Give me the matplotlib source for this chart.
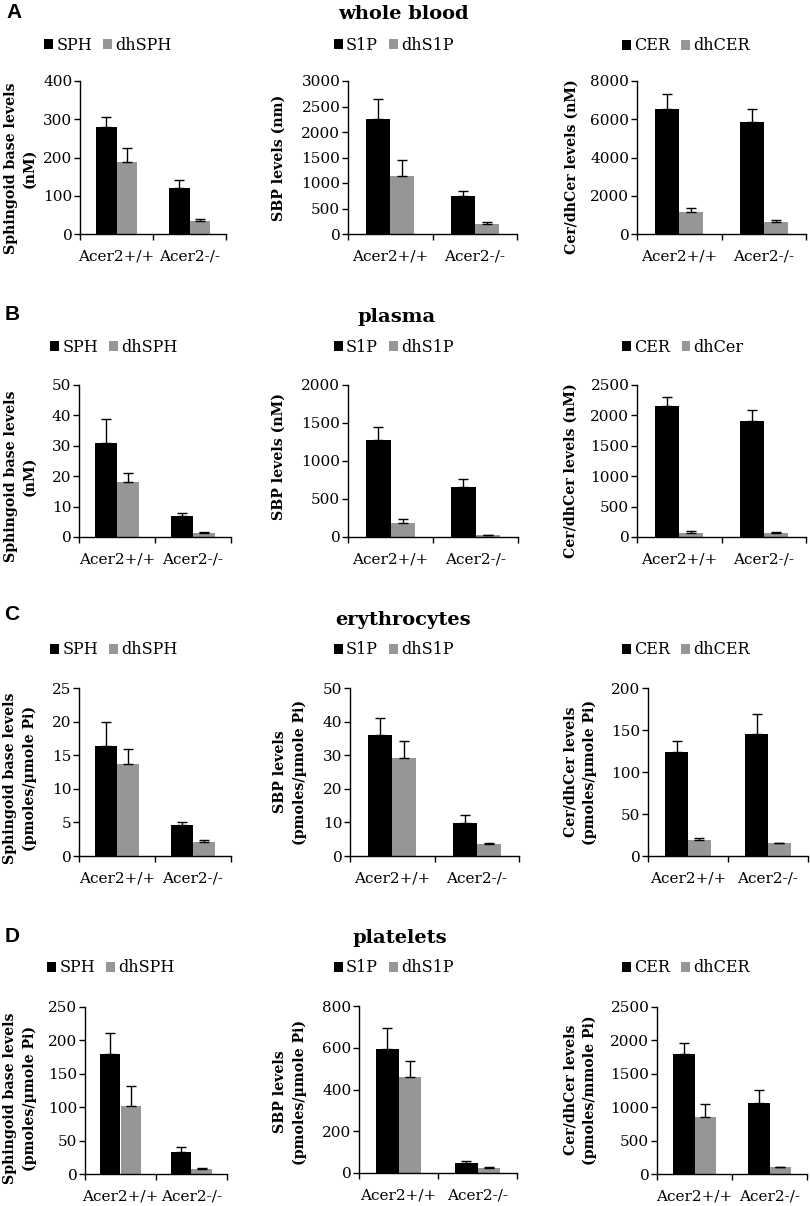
import matplotlib
matplotlib.use('Agg')
import matplotlib.pyplot as plt
import numpy as np

W, H = 810, 1206

groups = ['Acer2+/+', 'Acer2-/-']

# whole blood
blood_sph = [280, 120]
blood_sph_err = [25, 20]
blood_dhsph = [187, 35]
blood_dhsph_err = [38, 5]
blood_s1p = [2250, 740]
blood_s1p_err = [400, 110]
blood_dhs1p = [1140, 190]
blood_dhs1p_err = [310, 40]
blood_cer = [6550, 5850]
blood_cer_err = [750, 700]
blood_dhcer = [1170, 620]
blood_dhcer_err = [210, 110]

# plasma
plasma_sph = [30.8, 6.8]
plasma_sph_err = [8, 1]
plasma_dhsph = [18, 1.2]
plasma_dhsph_err = [3, 0.3]
plasma_s1p = [1280, 660]
plasma_s1p_err = [170, 100]
plasma_dhs1p = [190, 20]
plasma_dhs1p_err = [50, 8]
plasma_cer = [2150, 1900]
plasma_cer_err = [150, 190]
plasma_dhcer = [70, 65]
plasma_dhcer_err = [25, 20]

# erythrocytes
ery_sph = [16.4, 4.6]
ery_sph_err = [3.6, 0.5]
ery_dhsph = [13.7, 2.1]
ery_dhsph_err = [2.2, 0.3]
ery_s1p = [36, 9.8]
ery_s1p_err = [5.2, 2.5]
ery_dhs1p = [29.1, 3.5]
ery_dhs1p_err = [5, 0.5]
ery_cer = [124, 145]
ery_cer_err = [13, 24]
ery_dhcer = [19, 15]
ery_dhcer_err = [2, 1]

# platelets
plt_sph = [180, 33]
plt_sph_err = [31, 7]
plt_dhsph = [102, 7]
plt_dhsph_err = [30, 2]
plt_s1p = [595, 47]
plt_s1p_err = [98, 10]
plt_dhs1p = [462, 22]
plt_dhs1p_err = [75, 6]
plt_cer = [1790, 1060]
plt_cer_err = [170, 200]
plt_dhcer = [860, 100]
plt_dhcer_err = [190, 10]

GRAY = '#969696'
SERIF = 'DejaVu Serif'

fig = plt.figure(figsize=(W / 100, H / 100), dpi=100)
fig.patch.set_facecolor('white')


def fx(x):
    return x / W


def fy(y):
    return 1 - y / H


def draw(box, a, a_err, b, b_err, names, ymax, step, ylabel, lab_xy, leg_xy):
    x0, x1, top, bottom = box
    ax = fig.add_axes([fx(x0), fy(bottom), fx(x1 - x0), (bottom - top) / H])
    pos = np.arange(len(groups)) + 0.5
    w = 0.286
    ekw = dict(ecolor='black', elinewidth=1.0, capsize=3.5, capthick=1.0)
    ax.bar(pos - w / 2, a, w, color='black', label=names[0],
           yerr=[np.zeros(len(a)), a_err], error_kw=ekw, zorder=2)
    ax.bar(pos + w / 2, b, w, color=GRAY, label=names[1],
           yerr=[np.zeros(len(b)), b_err], error_kw=ekw, zorder=2)
    ax.set_xlim(0, len(groups))
    ax.set_ylim(0, ymax)
    ax.set_yticks(np.arange(0, ymax + step / 2, step))
    ax.set_xticks([0, 1, 2])
    ax.set_xticklabels([])
    ax.set_xticks(pos, minor=True)
    ax.set_xticklabels(groups, minor=True)
    ax.tick_params(axis='x', which='minor', length=0, pad=11)
    ax.tick_params(axis='both', which='major', direction='out', length=4,
                   width=1.0)
    ax.tick_params(axis='y', pad=1.5)
    for lbl in ax.get_xticklabels(minor=True) + ax.get_yticklabels():
        lbl.set_family(SERIF)
        lbl.set_fontsize(11)
    for s in ['top', 'right']:
        ax.spines[s].set_visible(False)
    for s in ['left', 'bottom']:
        ax.spines[s].set_linewidth(1.0)
    fig.text(fx(lab_xy[0]), fy(lab_xy[1]), ylabel, rotation=90, ha='center',
             va='center', family=SERIF, fontweight='bold', fontsize=10.2,
             linespacing=1.45)
    ax.legend(loc='center', bbox_to_anchor=(fx(leg_xy[0]), fy(leg_xy[1])),
              bbox_transform=fig.transFigure, ncol=2, frameon=False,
              handlelength=0.55, handleheight=0.55, handletextpad=0.2,
              columnspacing=0.7, prop={'family': SERIF, 'size': 11.5})
    return ax


# row A - whole blood
draw((80, 226, 81, 234), blood_sph, blood_sph_err, blood_dhsph, blood_dhsph_err,
     ['SPH', 'dhSPH'], 400, 100, 'Sphingoid base levels\n(nM)', (20, 168), (108, 45))
draw((348, 517, 81, 234), blood_s1p, blood_s1p_err, blood_dhs1p, blood_dhs1p_err,
     ['S1P', 'dhS1P'], 3000, 500, 'SBP levels (nm)', (279, 158), (394, 45))
draw((637, 806, 81, 234), blood_cer, blood_cer_err, blood_dhcer, blood_dhcer_err,
     ['CER', 'dhCER'], 8000, 2000, 'Cer/dhCer levels (nM)', (572, 167), (686, 46))

# row B - plasma
draw((79, 231, 385, 537), plasma_sph, plasma_sph_err, plasma_dhsph, plasma_dhsph_err,
     ['SPH', 'dhSPH'], 50, 10, 'Sphingoid base levels\n(nM)', (20, 476), (114, 347))
draw((348, 518, 385, 537), plasma_s1p, plasma_s1p_err, plasma_dhs1p, plasma_dhs1p_err,
     ['S1P', 'dhS1P'], 2000, 500, 'SBP levels (nM)', (279, 457), (394, 347))
draw((637, 806, 385, 537), plasma_cer, plasma_cer_err, plasma_dhcer, plasma_dhcer_err,
     ['CER', 'dhCer'], 2500, 500, 'Cer/dhCer levels (nM)', (571, 471), (683, 347))

# row C - erythrocytes
draw((79, 231, 688, 856), ery_sph, ery_sph_err, ery_dhsph, ery_dhsph_err,
     ['SPH', 'dhSPH'], 25, 5, 'Sphingoid base levels\n(pmoles/µmole Pi)', (20, 778), (114, 650))
draw((350, 519, 688, 856), ery_s1p, ery_s1p_err, ery_dhs1p, ery_dhs1p_err,
     ['S1P', 'dhS1P'], 50, 10, 'SBP levels\n(pmoles/µmole Pi)', (290, 772), (394, 650))
draw((648, 808, 688, 856), ery_cer, ery_cer_err, ery_dhcer, ery_dhcer_err,
     ['CER', 'dhCER'], 200, 50, 'Cer/dhCer levels\n(pmoles/µmole Pi)', (580, 772), (686, 650))

# row D - platelets
draw((85, 227, 1007, 1174), plt_sph, plt_sph_err, plt_dhsph, plt_dhsph_err,
     ['SPH', 'dhSPH'], 250, 50, 'Sphingoid base levels\n(pmoles/µmole Pi)', (20, 1098), (111, 968))
draw((359, 517, 1006, 1173), plt_s1p, plt_s1p_err, plt_dhs1p, plt_dhs1p_err,
     ['S1P', 'dhS1P'], 800, 200, 'SBP levels\n(pmoles/µmole Pi)', (290, 1092), (394, 968))
draw((657, 807, 1007, 1174), plt_cer, plt_cer_err, plt_dhcer, plt_dhcer_err,
     ['CER', 'dhCER'], 2500, 500, 'Cer/dhCer levels\n(pmoles/mmole Pi)', (580, 1090), (686, 968))

# section titles
titles = [('whole blood', 403, 14), ('plasma', 397, 317),
          ('erythrocytes', 403, 620), ('platelets', 400, 938)]
for t, x, y in titles:
    fig.text(fx(x), fy(y), t, ha='center', va='center', family=SERIF,
             fontweight='bold', fontsize=14)

# panel letters
letters = [('A', 14, 13), ('B', 12, 315), ('C', 12, 615), ('D', 12, 937)]
for t, x, y in letters:
    fig.text(fx(x), fy(y), t, ha='center', va='center',
             family='Liberation Sans', fontweight='bold', fontsize=15)

fig.savefig('out.png', dpi=100)
